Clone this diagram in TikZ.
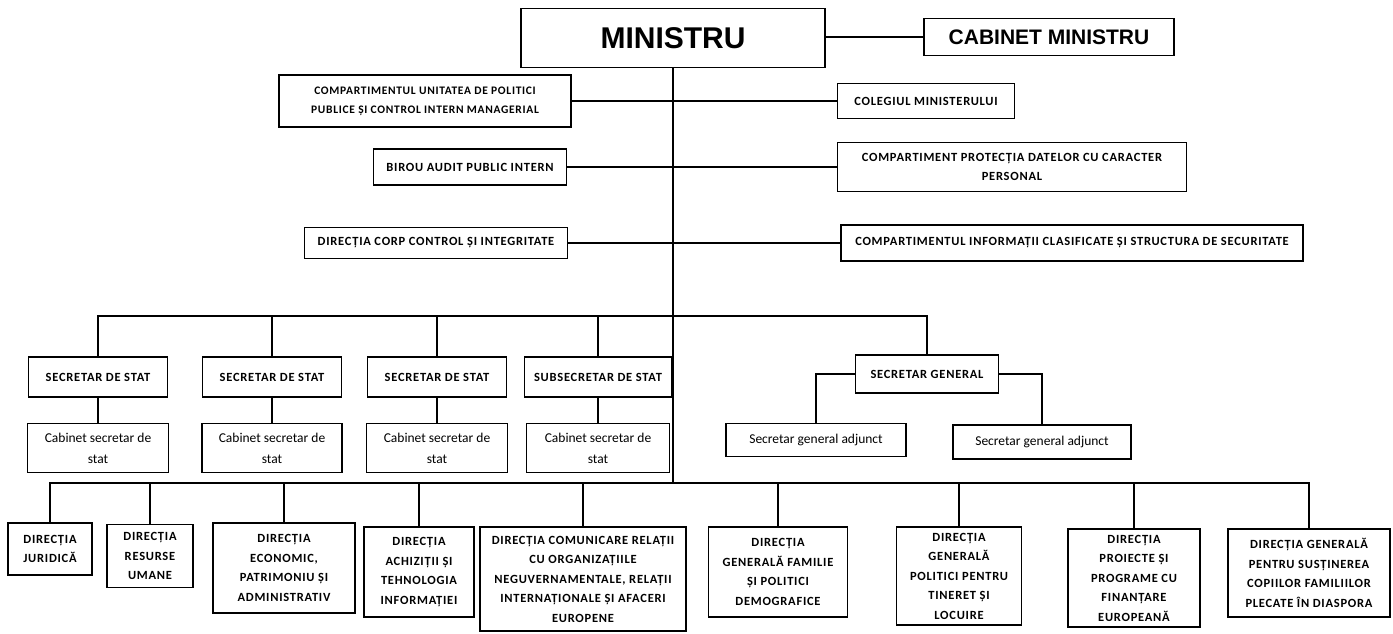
\documentclass[tikz,border=0pt]{standalone}
\usepackage{fontspec}
\setmainfont{Carlito}
\newfontfamily\headfont{Liberation Sans}
\newfontfamily\labelfont{Carlito}[LetterSpace=6]
\tikzset{
  box/.style={draw, line width=1.2pt, align=center, inner sep=1pt, font=\labelfont\bfseries\fontsize{12.5}{19.5}\selectfont},
  plainbox/.style={box, font=\fontsize{13.5}{21}\selectfont},
  link/.style={line width=1.2pt},
}
\begin{document}
\begin{tikzpicture}[x=1pt, y=-1pt]
  \useasboundingbox (0,0) rectangle (1393,633);
  % top
  \node[box, minimum width=304, minimum height=59, font=\headfont\bfseries\fontsize{30}{34}\selectfont] at (673,38) (min) {MINISTRU};
  \node[box, minimum width=250, minimum height=37, font=\headfont\bfseries\fontsize{21}{24}\selectfont] at (1049,37) (cab) {CABINET MINISTRU};
  \draw[link] (min.east |- cab.west) -- (cab.west);
  % staff units
  \node[box, minimum width=292, minimum height=52, font=\labelfont\bfseries\fontsize{11.5}{19}\selectfont] at (425,101) (cpu) {COMPARTIMENTUL UNITATEA DE POLITICI\\PUBLICE ȘI CONTROL INTERN MANAGERIAL};
  \node[box, minimum width=177, minimum height=35] at (926,101) (col) {COLEGIUL MINISTERULUI};
  \node[box, minimum width=193, minimum height=36] at (470,167) (bapi) {BIROU AUDIT PUBLIC INTERN};
  \node[box, minimum width=349, minimum height=49] at (1012,167) (cpd) {COMPARTIMENT PROTECȚIA DATELOR CU CARACTER\\PERSONAL};
  \node[box, minimum width=263, minimum height=31] at (436,243) (dcci) {DIRECȚIA CORP CONTROL ȘI INTEGRITATE};
  \node[box, minimum width=462, minimum height=36] at (1072,243) (cics) {COMPARTIMENTUL INFORMAȚII CLASIFICATE ȘI STRUCTURA DE SECURITATE};
  \draw[link] (cpu) -- (col);
  \draw[link] (bapi) -- (cpd);
  \draw[link] (dcci) -- (cics);
  % trunk and buses
  \coordinate (busA) at (673,316);
  \coordinate (busB) at (673,483);
  \draw[link] (min.south) -- (busB);
  % secretaries
  \node[box, minimum width=139, minimum height=40] at (98,377) (ss1) {SECRETAR DE STAT};
  \node[box, minimum width=139, minimum height=40] at (272,377) (ss2) {SECRETAR DE STAT};
  \node[box, minimum width=139, minimum height=40] at (437,377) (ss3) {SECRETAR DE STAT};
  \node[box, minimum width=147, minimum height=40] at (598,377) (sub) {SUBSECRETAR DE STAT};
  \node[plainbox, minimum width=141, minimum height=49] at (98,448) (cab1) {Cabinet secretar de\\stat};
  \node[plainbox, minimum width=140, minimum height=49] at (272,448) (cab2) {Cabinet secretar de\\stat};
  \node[plainbox, minimum width=141, minimum height=49] at (437,448) (cab3) {Cabinet secretar de\\stat};
  \node[plainbox, minimum width=143, minimum height=49] at (598,448) (cab4) {Cabinet secretar de\\stat};
  \node[box, minimum width=143, minimum height=38] at (927,374) (sg) {SECRETAR GENERAL};
  \node[plainbox, minimum width=180, minimum height=33] at (816,440) (sga1) {Secretar general adjunct};
  \node[plainbox, minimum width=178, minimum height=34] at (1042,442) (sga2) {Secretar general adjunct};
  \draw[link] (ss1.north) |- (busA) -| (sg.north);
  \foreach \n in {ss2,ss3,sub}
    \draw[link] (\n.north) -- (\n.north |- busA);
  \foreach \n/\m in {ss1/cab1,ss2/cab2,ss3/cab3,sub/cab4}
    \draw[link] (\n) -- (\m);
  \draw[link] (sg.west) -| (sga1.north);
  \draw[link] (sg.east) -| (sga2.north);
  % directions
  \node[box, minimum width=84, minimum height=52] at (50,549) (d1) {DIRECȚIA\\JURIDICĂ};
  \node[box, minimum width=86, minimum height=63] at (150,556) (d2) {DIRECȚIA\\RESURSE\\UMANE};
  \node[box, minimum width=142, minimum height=90] at (284,568) (d3) {DIRECȚIA\\ECONOMIC,\\PATRIMONIU ȘI\\ADMINISTRATIV};
  \node[box, minimum width=110, minimum height=90] at (419,572) (d4) {DIRECȚIA\\ACHIZIȚII ȘI\\TEHNOLOGIA\\INFORMAȚIEI};
  \node[box, minimum width=206, minimum height=104] at (583,579) (d5) {DIRECȚIA COMUNICARE RELAȚII\\CU ORGANIZAȚIILE\\NEGUVERNAMENTALE, RELAȚII\\INTERNAȚIONALE ȘI AFACERI\\EUROPENE};
  \node[box, minimum width=139, minimum height=90] at (778,572) (d6) {DIRECȚIA\\GENERALĂ FAMILIE\\ȘI POLITICI\\DEMOGRAFICE};
  \node[box, minimum width=125, minimum height=98] at (959,576) (d7) {DIRECȚIA\\GENERALĂ\\POLITICI PENTRU\\TINERET ȘI\\LOCUIRE};
  \node[box, minimum width=132, minimum height=98] at (1134,578) (d8) {DIRECȚIA\\PROIECTE ȘI\\PROGRAME CU\\FINANȚARE\\EUROPEANĂ};
  \node[box, minimum width=162, minimum height=88] at (1309,573) (d9) {DIRECȚIA GENERALĂ\\PENTRU SUSȚINEREA\\COPIILOR FAMILIILOR\\PLECATE ÎN DIASPORA};
  \draw[link] (d1.north) |- (busB) -| (d9.north);
  \foreach \n in {d2,d3,d4,d5,d6,d7,d8}
    \draw[link] (\n.north) -- (\n.north |- busB);
\end{tikzpicture}
\end{document}
